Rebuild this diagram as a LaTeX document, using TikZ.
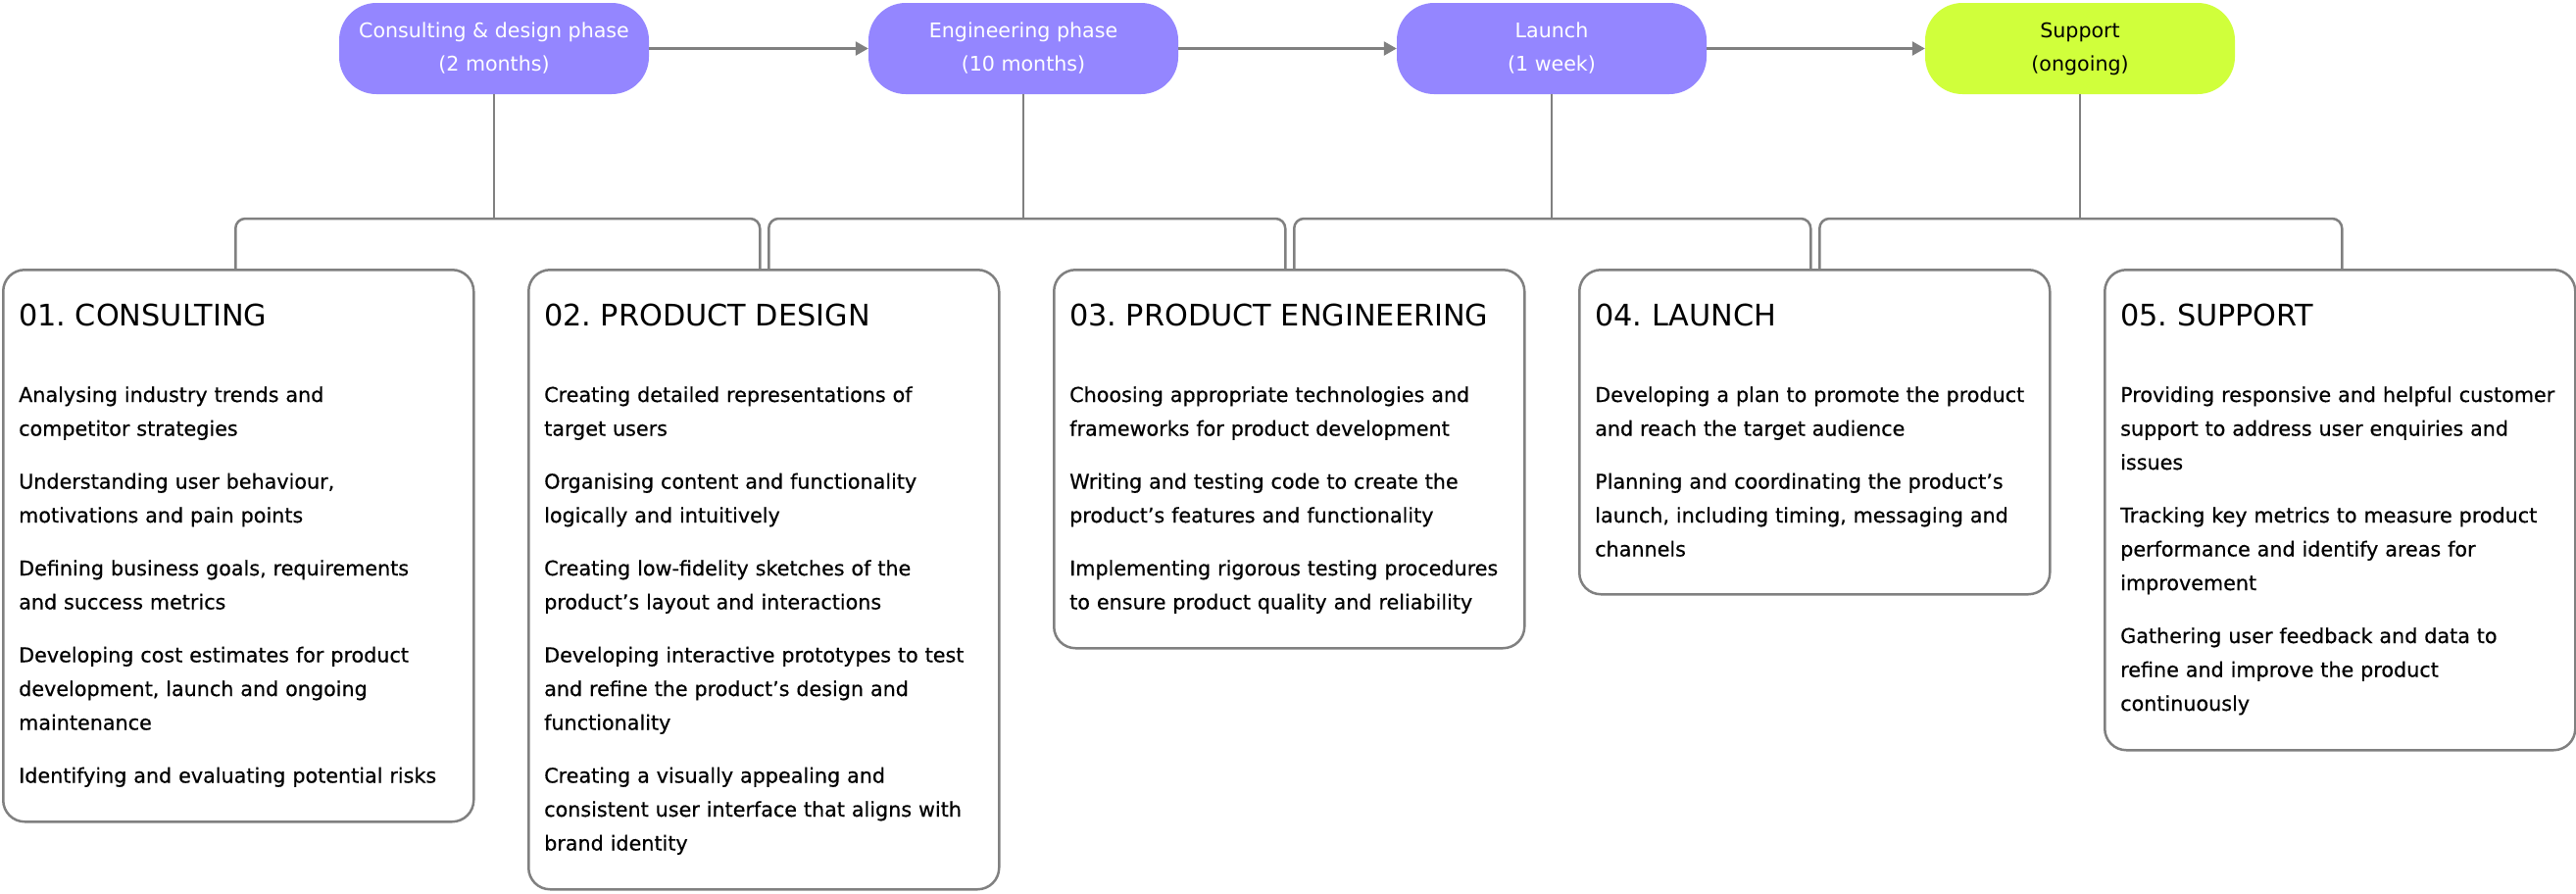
\documentclass[tikz,border=0pt]{standalone}
\usepackage{fontspec}
\setmainfont{DejaVu Sans}
\newfontfamily\medfont{DejaVu Sans}[FakeBold=0.45]
\usetikzlibrary{arrows.meta}
\definecolor{pillpurple}{HTML}{9486FF}
\definecolor{pilllime}{HTML}{D0FF3B}
\definecolor{linegray}{HTML}{808080}
\begin{document}
\frenchspacing
\begin{tikzpicture}[x=1pt,y=-1pt,
  pill/.style={rounded corners=38pt, minimum width=316pt, minimum height=93pt, inner sep=0pt, align=center, font=\fontsize{20.6pt}{34pt}\selectfont},
  purplepill/.style={pill, fill=pillpurple, text=white},
  limepill/.style={pill, fill=pilllime, text=black},
  card/.style={draw=linegray, line width=2.5pt, rounded corners=22pt, minimum width=480pt, inner sep=0pt, anchor=north west},
  cardtitle/.style={anchor=base west, inner sep=0pt, font=\fontsize{30.3pt}{36pt}\selectfont\frenchspacing},
  cardbody/.style={anchor=base west, inner sep=0pt, text width=470pt, align=left, font=\medfont\fontsize{20.7pt}{34.5pt}\selectfont},
  conn/.style={draw=linegray, line width=2.5pt},
  flow/.style={conn, -{Triangle[length=13pt,width=14pt]}},
  bracket/.style={conn, rounded corners=10pt},
]
\useasboundingbox (0,0) rectangle (2628,911);

% phase pills
\node[purplepill] (p1) at (504,49.5) {Consulting \& design phase\\(2 months)};
\node[purplepill] (p2) at (1044,49.5) {Engineering phase\\(10 months)};
\node[purplepill] (p3) at (1583,49.5) {Launch\\(1 week)};
\node[limepill]   (p4) at (2122,49.5) {Support\\(ongoing)};

\draw[flow] (p1.east) -- (p2.west);
\draw[flow] (p2.east) -- (p3.west);
\draw[flow] (p3.east) -- (p4.west);

% cards
\node[card, minimum height=563pt] (b1) at (2,274) {};
\node[card, minimum height=632pt] (b2) at (538,274) {};
\node[card, minimum height=386pt] (b3) at (1074,274) {};
\node[card, minimum height=331pt] (b4) at (1610,274) {};
\node[card, minimum height=490pt] (b5) at (2146,274) {};

\node[cardtitle] (t1) at (19,332) {01. CONSULTING};
\node[cardtitle] (t2) at (555,332) {02. PRODUCT DESIGN};
\node[cardtitle] (t3) at (1091,332) {03. PRODUCT ENGINEERING};
\node[cardtitle] (t4) at (1627,332) {04. LAUNCH};
\node[cardtitle] (t5) at (2163,332) {05. SUPPORT};

\node[cardbody] (d1) at (19,410) {Analysing industry trends and\\competitor strategies\\[19.5pt]
Understanding user behaviour,\\motivations and pain points\\[19.5pt]
Defining business goals, requirements\\and success metrics\\[19.5pt]
Developing cost estimates for product\\development, launch and ongoing\\maintenance\\[19.5pt]
Identifying and evaluating potential risks};

\node[cardbody] (d2) at (555,410) {Creating detailed representations of\\target users\\[19.5pt]
Organising content and functionality\\logically and intuitively\\[19.5pt]
Creating low-fidelity sketches of the\\product’s layout and interactions\\[19.5pt]
Developing interactive prototypes to test\\and refine the product’s design and\\functionality\\[19.5pt]
Creating a visually appealing and\\consistent user interface that aligns with\\brand identity};

\node[cardbody] (d3) at (1091,410) {Choosing appropriate technologies and\\frameworks for product development\\[19.5pt]
Writing and testing code to create the\\product’s features and functionality\\[19.5pt]
Implementing rigorous testing procedures\\to ensure product quality and reliability};

\node[cardbody] (d4) at (1627,410) {Developing a plan to promote the product\\and reach the target audience\\[19.5pt]
Planning and coordinating the product’s\\launch, including timing, messaging and\\channels};

\node[cardbody] (d5) at (2163,410) {Providing responsive and helpful customer\\support to address user enquiries and\\issues\\[19.5pt]
Tracking key metrics to measure product\\performance and identify areas for\\improvement\\[19.5pt]
Gathering user feedback and data to\\refine and improve the product\\continuously};

% connectors from pills to cards
\coordinate (lev) at (0,223);
\coordinate (s1r) at ([xshift=-3pt]b1.north);
\coordinate (s2l) at ([xshift=-4pt]b2.north);
\coordinate (s2r) at ([xshift=5pt]b2.north);
\coordinate (s3l) at ([xshift=-4pt]b3.north);
\coordinate (s3r) at ([xshift=5pt]b3.north);
\coordinate (s4l) at ([xshift=-4pt]b4.north);
\coordinate (s4r) at ([xshift=5pt]b4.north);
\coordinate (s5l) at ([xshift=2pt]b5.north);

\draw[conn] (p1.south) -- (p1.south |- lev);
\draw[conn] (p2.south) -- (p2.south |- lev);
\draw[conn] (p3.south) -- (p3.south |- lev);
\draw[conn] (p4.south) -- (p4.south |- lev);

\draw[bracket] (s1r) -- (s1r |- lev) -- (s2l |- lev) -- (s2l);
\draw[bracket] (s2r) -- (s2r |- lev) -- (s3l |- lev) -- (s3l);
\draw[bracket] (s3r) -- (s3r |- lev) -- (s4l |- lev) -- (s4l);
\draw[bracket] (s4r) -- (s4r |- lev) -- (s5l |- lev) -- (s5l);
\end{tikzpicture}
\end{document}
